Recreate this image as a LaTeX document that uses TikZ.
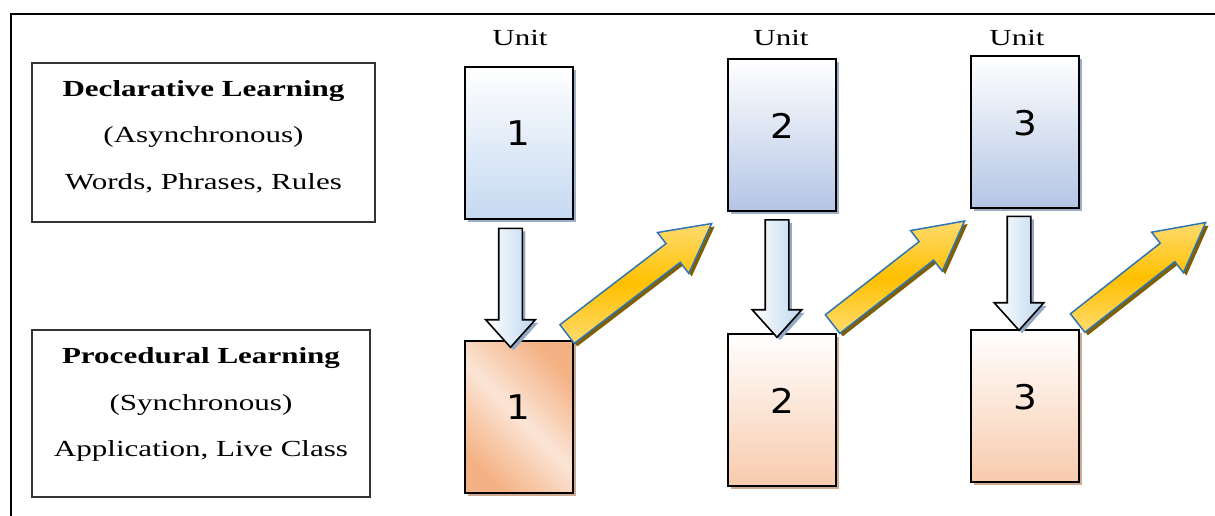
\documentclass[tikz,border=0pt]{standalone}
\usepackage{fontspec}
\setmainfont{Liberation Serif}[FakeStretch=1.35]
\newfontfamily\numfont{DejaVu Sans}[FakeStretch=1.1]
\usepackage{xcolor}
\usepackage{tikz}
\usetikzlibrary{calc,shapes.arrows,shadows}

\definecolor{declblue}{HTML}{C5D9F1}
\definecolor{declbluedark}{HTML}{B4C5E5}
\definecolor{declshadow}{HTML}{9DAECB}
\definecolor{procpeach}{HTML}{F8CBAD}
\definecolor{procdark}{HTML}{F4B183}
\definecolor{proclight}{HTML}{FBE5D6}
\definecolor{procshadow}{HTML}{CDAA92}
\definecolor{arrowblue}{HTML}{BDD7EE}
\definecolor{arrowshadow}{HTML}{93A9C4}
\definecolor{stepyellow}{HTML}{FFC000}
\definecolor{steplight}{HTML}{FFDB6E}
\definecolor{stepedge}{HTML}{2E75B6}
\definecolor{stepshadow}{HTML}{7F6000}

\begin{document}
\begin{tikzpicture}[x=1pt, y=-1pt, every node/.style={inner sep=0pt},
  txtbox/.style={draw=black!80, line width=1.2pt},
  txtlines/.style={align=center, font=\fontsize{23}{46.5}\selectfont},
  unitlabel/.style={font=\fontsize{23}{23}\selectfont},
  unitbox/.style={draw, line width=2pt, minimum width=108pt, minimum height=152pt, text depth=18pt, font=\numfont\fontsize{34}{34}\selectfont},
  declbox/.style={unitbox, top color=white, bottom color=#1, drop shadow={shadow xshift=3pt, shadow yshift=-3pt, fill=declshadow, opacity=1}},
  procbox/.style={unitbox, top color=white, bottom color=procpeach, drop shadow={shadow xshift=3pt, shadow yshift=-3pt, fill=procshadow, opacity=1}},
  downarrow/.style={single arrow, draw, line width=1.6pt, inner ysep=11pt, single arrow head extend=13pt, single arrow tip angle=84, left color=white, right color=arrowblue, drop shadow={shadow xshift=3pt, shadow yshift=-3pt, fill=arrowshadow, opacity=1}},
  stepup/.style={single arrow, draw=stepedge, line width=1.5pt, inner ysep=11pt, single arrow head extend=14pt, single arrow tip angle=56, top color=steplight, bottom color=steplight, middle color=stepyellow, drop shadow={shadow xshift=3pt, shadow yshift=-3pt, fill=stepshadow, opacity=1}}]
\clip (0,0) rectangle (1215,515);
% frame
\draw[line width=2.2pt] (11,14) rectangle (1240,540);
% left column
\node[txtbox, minimum width=343pt, minimum height=159pt] (decl) at (203.5,142.5) {};
\node[txtlines] (decltext) at ($(decl.center)+(0,-6)$) {\textbf{Declarative Learning}\\(Asynchronous)\\Words, Phrases, Rules};
\node[txtbox, minimum width=338pt, minimum height=167pt] (proc) at (201,413.5) {};
\node[txtlines] (proctext) at ($(proc.center)+(0,-9)$) {\textbf{Procedural Learning}\\(Synchronous)\\Application, Live Class};
% units
\node[unitlabel] (u1) at (520,38) {Unit};
\node[unitlabel] (u2) at (781,38) {Unit};
\node[unitlabel] (u3) at (1017,38) {Unit};
\node[declbox=declblue] (d1) at (518.5,142.5) {1};
\node[declbox=declbluedark] (d2) at (782,135) {2};
\node[declbox=declbluedark] (d3) at (1025,131.5) {3};
\node[unitbox, left color=procdark, right color=procdark, middle color=proclight, shading angle=-45, drop shadow={shadow xshift=3pt, shadow yshift=-3pt, fill=procshadow, opacity=1}] (p1) at (518.5,416.5) {1};
\node[procbox] (p2) at (782,409.5) {2};
\node[procbox] (p3) at (1025,405.5) {3};
% down arrows
\path let \p1=($(p1.north)-(d1.south)$) in ($(d1.south)+(-8,8)$) node (a1) [downarrow, anchor=tail, rotate=-90, minimum height={-\y1-1pt}] {};
\path let \p1=($(p2.north)-(d2.south)$) in ($(d2.south)+(-5,7)$) node (a2) [downarrow, anchor=tail, rotate=-90, minimum height={-\y1-3pt}] {};
\path let \p1=($(p3.north)-(d3.south)$) in ($(d3.south)+(-6,7)$) node (a3) [downarrow, anchor=tail, rotate=-90, minimum height={-\y1-6pt}] {};
% steps up
\coordinate (e3) at (1205,223);
\path let \p1=($(p1.north east)+(-7,-5)$), \p2=($(d2.south west)+(-16,12)$), \p3=($(\p2)-(\p1)$), \n1={atan2(\y3,\x3)}, \n2={veclen(\x3,\y3)} in (\p1) node (s1) [stepup, anchor=tail, rotate=\n1, minimum height=\n2] {};
\path let \p1=($(p2.north east)+(-5,-8)$), \p2=($(d3.south west)+(-6,13)$), \p3=($(\p2)-(\p1)$), \n1={atan2(\y3,\x3)}, \n2={veclen(\x3,\y3)} in (\p1) node (s2) [stepup, anchor=tail, rotate=\n1, minimum height=\n2] {};
\path let \p1=($(p3.north east)+(-3,-5)$), \p2=(e3), \p3=($(\p2)-(\p1)$), \n1={atan2(\y3,\x3)}, \n2={veclen(\x3,\y3)} in (\p1) node (s3) [stepup, anchor=tail, rotate=\n1, minimum height=\n2] {};
\end{tikzpicture}
\end{document}
